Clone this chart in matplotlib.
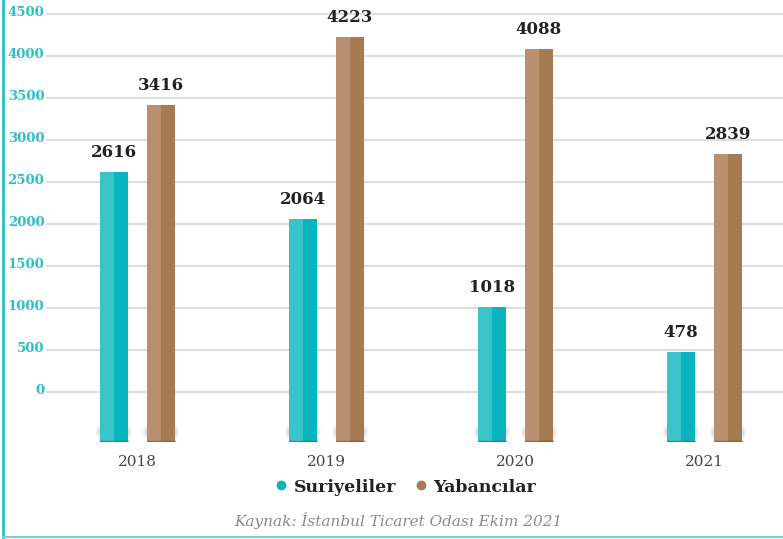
import matplotlib
matplotlib.use('Agg')
import matplotlib.pyplot as plt
from matplotlib.lines import Line2D
from matplotlib.patches import Ellipse
import numpy as np

# Yillara gore Suriyeli ve yabanci ortakli sirket sayilari
years = ['2018', '2019', '2020', '2021']
series_names = ['Suriyeliler', 'Yabancılar']
suriyeliler = [2616, 2064, 1018, 478]
yabancilar = [3416, 4223, 4088, 2839]
yticks = [0, 500, 1000, 1500, 2000, 2500, 3000, 3500, 4000, 4500]
source = 'Kaynak: İstanbul Ticaret Odası Ekim 2021'

teal_light, teal_dark = '#3AC4CA', '#08B4BD'
brown_light, brown_dark = '#B89070', '#A67B51'
teal_axis = '#2DBFC7'

plt.rcParams['font.family'] = ['DejaVu Serif']

fig = plt.figure(figsize=(7.83, 5.39), dpi=100)
ax = fig.add_axes([46 / 783, 1 - 442 / 539, 1 - 46 / 783, 442 / 539])

x = np.arange(len(years))
w = 0.148
offsets = [-0.122, 0.127]
base = -595

for vals, off, (cl, cd) in zip([suriyeliler, yabancilar], offsets,
                               [(teal_light, teal_dark), (brown_light, brown_dark)]):
    for xi, v in zip(x, vals):
        cx = xi + off
        # weicher Schatten am Fuss
        for k, a in enumerate([0.07, 0.08, 0.10]):
            ax.add_patch(Ellipse((cx, base + 120), w * (1.3 - 0.1 * k), 280 - 60 * k,
                                 color='#666666', alpha=a, lw=0, zorder=1))
        ax.bar(cx - w / 4, v - base, width=w / 2, bottom=base, color=cl, zorder=3)
        ax.bar(cx + w / 4, v - base, width=w / 2, bottom=base, color=cd, zorder=3)
        ax.plot([cx - w / 2, cx + w / 2], [base + 8, base + 8], color='#555555',
                lw=1, alpha=0.6, zorder=4)
        ax.text(cx, v + 130, str(v), ha='center', va='bottom', fontsize=12,
                fontweight='bold', color='#222222', zorder=5)

for t in yticks:
    ax.axhline(t, color='#DDDDDD', lw=1.5, zorder=0)
    ax.text(-0.49, t + 20, str(t), ha='right', va='center', fontsize=9.5,
            fontweight='bold', color=teal_axis, clip_on=False)

ax.set_xlim(-0.481, 3.418)
ax.set_ylim(base, 4667)
ax.axis('off')

for xi, yr in zip(x, years):
    fig.text((137 + 189 * xi) / 783, 1 - 462 / 539, yr, ha='center', va='center',
             fontsize=11, color='#444444')

handles = [Line2D([], [], marker='o', ls='', color=c, markersize=6)
           for c in [teal_dark, brown_dark]]
fig.legend(handles, series_names, loc='center', bbox_to_anchor=(405 / 783, 1 - 487 / 539),
           ncol=2, frameon=False, handlelength=0.8, handletextpad=0.35, columnspacing=1.0,
           prop={'family': 'DejaVu Serif', 'weight': 'bold', 'size': 12.5},
           labelcolor='#222222')

fig.text(398 / 783, 1 - 521 / 539, source, ha='center', va='center', fontsize=11,
         style='italic', color='#8A8A8A')

# Rahmen links und unten
fig.add_artist(Line2D([3 / 783, 3 / 783], [1, 2 / 539], color=teal_axis, lw=2))
fig.add_artist(Line2D([3 / 783, 1], [2 / 539, 2 / 539], color='#6FD3D8', lw=1.5))

fig.savefig('out.png', dpi=100)
